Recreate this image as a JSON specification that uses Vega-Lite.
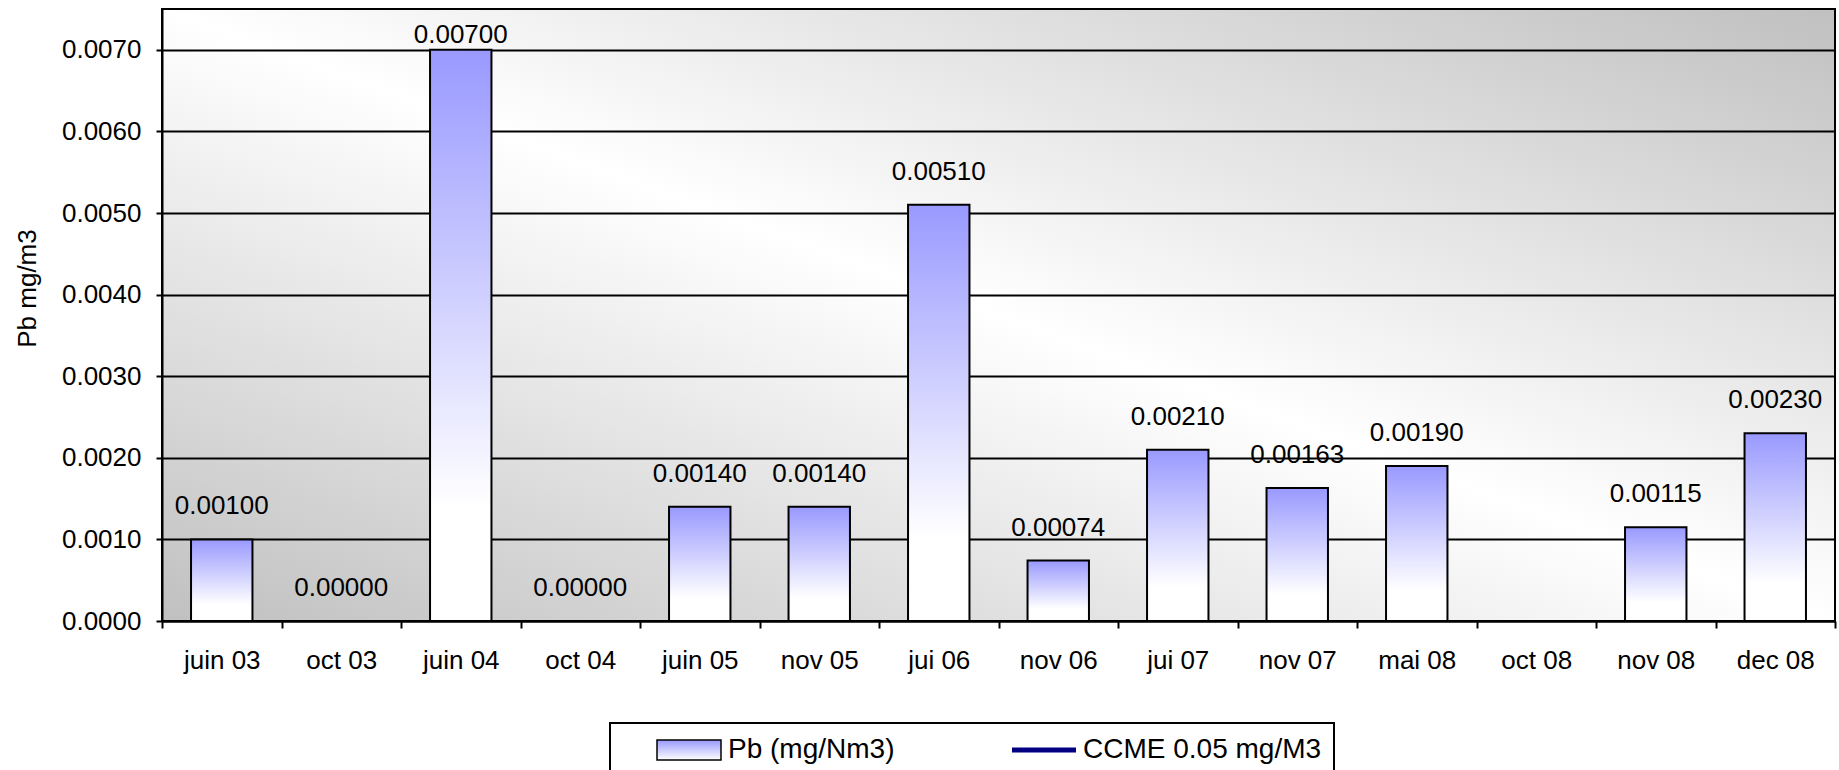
{
  "$schema": "https://vega.github.io/schema/vega-lite/v6.json",
  "width": 1673,
  "height": 612,
  "autosize": {"type": "none"},
  "padding": {"left": 162, "top": 9, "right": 4, "bottom": 149},
  "background": "white",
  "config": {
    "font": "Liberation Sans",
    "view": {
      "stroke": "black",
      "strokeWidth": 2,
      "fill": {
        "gradient": "linear",
        "x1": 1, "y1": 0, "x2": 0, "y2": 1,
        "stops": [
          {"offset": 0, "color": "#c0c0c0"},
          {"offset": 0.5, "color": "#ffffff"},
          {"offset": 1, "color": "#c0c0c0"}
        ]
      }
    },
    "axis": {
      "labelFont": "Liberation Sans",
      "titleFont": "Liberation Sans",
      "labelColor": "black",
      "titleColor": "black",
      "domainColor": "black",
      "domainWidth": 2,
      "tickColor": "black",
      "tickWidth": 2
    },
    "legend": {"labelFont": "Liberation Sans"}
  },
  "data": {
    "values": [
      {"date": "juin 03", "pb": 0.001},
      {"date": "oct 03", "pb": 0},
      {"date": "juin 04", "pb": 0.007},
      {"date": "oct 04", "pb": 0},
      {"date": "juin 05", "pb": 0.0014},
      {"date": "nov 05", "pb": 0.0014},
      {"date": "jui 06", "pb": 0.0051},
      {"date": "nov 06", "pb": 0.00074},
      {"date": "jui 07", "pb": 0.0021},
      {"date": "nov 07", "pb": 0.00163},
      {"date": "mai 08", "pb": 0.0019},
      {"date": "oct 08", "pb": null},
      {"date": "nov 08", "pb": 0.00115},
      {"date": "dec 08", "pb": 0.0023}
    ]
  },
  "layer": [
    {
      "mark": {
        "type": "bar",
        "width": {"band": 0.514},
        "strokeWidth": 2,
        "fill": {
          "gradient": "linear",
          "x1": 0, "y1": 0, "x2": 0, "y2": 1,
          "stops": [
            {"offset": 0, "color": "#9999ff"},
            {"offset": 0.8, "color": "#ffffff"},
            {"offset": 1, "color": "#ffffff"}
          ]
        }
      },
      "encoding": {
        "x": {
          "field": "date",
          "type": "nominal",
          "sort": null,
          "scale": {
            "domain": ["juin 03", "oct 03", "juin 04", "oct 04", "juin 05", "nov 05", "jui 06", "nov 06", "jui 07", "nov 07", "mai 08", "oct 08", "nov 08", "dec 08"],
            "paddingInner": 0,
            "paddingOuter": 0
          },
          "axis": {
            "title": null,
            "labelAngle": 0,
            "labelFontSize": 26,
            "labelBaseline": "alphabetic",
            "labelPadding": 40,
            "tickSize": 7,
            "tickBand": "extent",
            "grid": false
          }
        },
        "y": {
          "field": "pb",
          "type": "quantitative",
          "title": "Pb mg/m3",
          "scale": {"domain": [0, 0.0075], "nice": false, "zero": true},
          "axis": {
            "values": [0, 0.001, 0.002, 0.003, 0.004, 0.005, 0.006, 0.007],
            "format": ".4f",
            "labelFontSize": 26,
            "labelPadding": 15,
            "tickSize": 6,
            "grid": true,
            "gridColor": "black",
            "gridWidth": 2,
            "titleFontSize": 26,
            "titleFontWeight": "normal",
            "titleX": -127,
            "titleY": 279,
            "titleBaseline": "alphabetic"
          }
        },
        "stroke": {
          "datum": "Pb (mg/Nm3)",
          "type": "nominal",
          "scale": {"domain": ["Pb (mg/Nm3)", "CCME 0.05 mg/M3"], "range": ["#000000", "#000080"]},
          "legend": {
            "title": null,
            "orient": "none",
            "legendX": 448,
            "legendY": 714,
            "direction": "horizontal",
            "columns": 2,
            "columnPadding": 82,
            "symbolSize": 4096,
            "clipHeight": 30,
            "symbolOffset": 53,
            "labelOffset": 25,
            "labelFontSize": 28,
            "labelColor": "black",
            "labelLimit": 500,
            "padding": 12,
            "strokeColor": "black",
            "fillColor": "white",
            "encoding": {
              "legend": {"strokeWidth": {"value": 2}},
              "symbols": {
                "shape": {"value": {"expr": "datum.value === 'Pb (mg/Nm3)' ? 'M-1,-0.3125H1V0.3125H-1Z' : 'stroke'"}},
                "strokeWidth": {"value": {"expr": "datum.value === 'Pb (mg/Nm3)' ? 1.5 : 5"}},
                "size": {"value": 4096},
                "opacity": {"value": 1},
                "fill": {
                  "value": {
                    "gradient": "linear",
                    "x1": 0, "y1": 0, "x2": 0, "y2": 1,
                    "stops": [
                      {"offset": 0, "color": "#9999ff"},
                      {"offset": 1, "color": "#ffffff"}
                    ]
                  }
                }
              }
            }
          }
        }
      }
    },
    {
      "transform": [{"filter": "datum.pb != null && datum.pb < 0.0065"}],
      "mark": {"type": "text", "dy": -25, "fontSize": 26, "baseline": "alphabetic", "color": "black"},
      "encoding": {
        "x": {"field": "date", "type": "nominal", "sort": null},
        "y": {"field": "pb", "type": "quantitative", "title": "Pb mg/m3"},
        "text": {"field": "pb", "type": "quantitative", "format": ".5f"}
      }
    },
    {
      "transform": [{"filter": "datum.pb != null && datum.pb >= 0.0065"}],
      "mark": {"type": "text", "dy": -7, "fontSize": 26, "baseline": "alphabetic", "color": "black"},
      "encoding": {
        "x": {"field": "date", "type": "nominal", "sort": null},
        "y": {"field": "pb", "type": "quantitative", "title": "Pb mg/m3"},
        "text": {"field": "pb", "type": "quantitative", "format": ".5f"}
      }
    },
    {
      "data": {"values": [{"ccme": 0.05}]},
      "mark": {"type": "rule", "clip": true, "strokeWidth": 4},
      "encoding": {
        "y": {"field": "ccme", "type": "quantitative", "title": "Pb mg/m3"},
        "stroke": {"datum": "CCME 0.05 mg/M3", "type": "nominal"}
      }
    }
  ]
}
